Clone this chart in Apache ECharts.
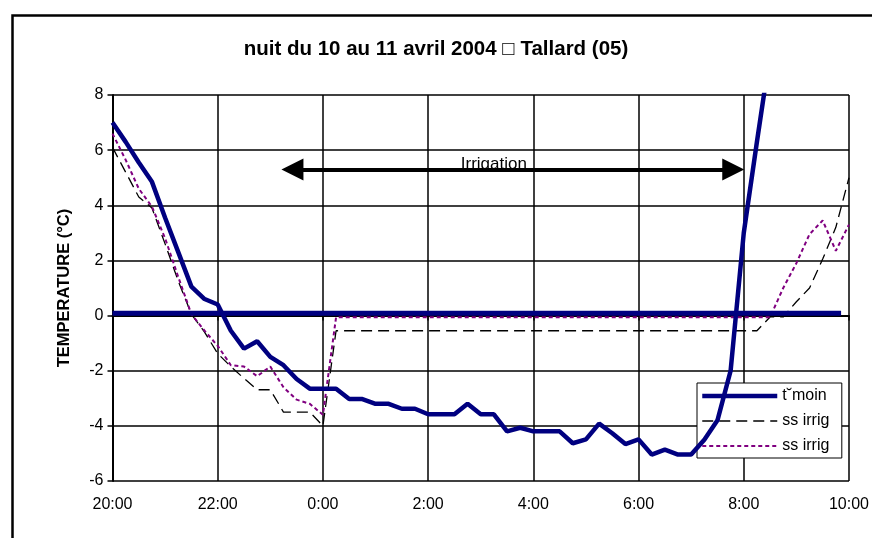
<!DOCTYPE html>
<html>
<head>
<meta charset="utf-8">
<script src="https://cdn.jsdelivr.net/npm/echarts@6/dist/echarts.min.js"></script>
<style>
html,body{margin:0;padding:0;background:#fff;}
#chart{width:872px;height:538px;}
</style>
</head>
<body>
<div id="chart"></div>
<script>
// time in hours after 20:00 (15-minute readings)
const hours = [0,0.25,0.5,0.75,1,1.25,1.5,1.75,2,2.25,2.5,2.75,3,3.25,3.5,3.75,
  4,4.25,4.5,4.75,5,5.25,5.5,5.75,6,6.25,6.5,6.75,7,7.25,7.5,7.75,
  8,8.25,8.5,8.75,9,9.25,9.5,9.75,10,10.25,10.5,10.75,11,11.25,11.5,11.75,
  12,12.25,12.5,12.75,13,13.25,13.5,13.75,14];
const tickLabels = ["20:00","22:00","0:00","2:00","4:00","6:00","8:00","10:00"];

const temoin = [7.0,6.3,5.55,4.85,3.55,2.3,1.05,0.6,0.4,-0.55,-1.2,-0.93,-1.5,-1.8,-2.3,-2.65,
  -2.65,-2.65,-3.03,-3.03,-3.2,-3.2,-3.38,-3.38,-3.58,-3.58,-3.58,-3.2,-3.58,-3.58,-4.2,-4.07,
  -4.2,-4.2,-4.2,-4.63,-4.49,-3.92,-4.27,-4.66,-4.49,-5.04,-4.86,-5.04,-5.04,-4.5,-3.8,-2.0,
  3.0,6.3,9.5];
const ssIrrig1 = [6.1,5.2,4.3,3.9,2.6,1.25,0.05,-0.6,-1.38,-1.85,-2.28,-2.69,-2.69,-3.5,-3.5,-3.5,
  -4.0,-0.55,-0.55,-0.55,-0.55,-0.55,-0.55,-0.55,-0.55,-0.55,-0.55,-0.55,-0.55,-0.55,-0.55,-0.55,
  -0.55,-0.55,-0.55,-0.55,-0.55,-0.55,-0.55,-0.55,-0.55,-0.55,-0.55,-0.55,-0.55,-0.55,-0.55,-0.55,
  -0.55,-0.55,-0.05,-0.05,0.5,1.0,2.05,3.2,5.0];
const ssIrrig2 = [6.6,5.65,4.6,3.95,2.8,1.4,0.05,-0.55,-1.1,-1.8,-1.85,-2.2,-1.85,-2.6,-3.05,-3.2,
  -3.6,-0.06,-0.06,-0.06,-0.06,-0.06,-0.06,-0.06,-0.06,-0.06,-0.06,-0.06,-0.06,-0.06,-0.06,-0.06,
  -0.06,-0.06,-0.06,-0.06,-0.06,-0.06,-0.06,-0.06,-0.06,-0.06,-0.06,-0.06,-0.06,-0.06,-0.06,-0.06,
  -0.06,-0.06,-0.06,1.0,1.9,2.95,3.45,2.35,3.3];
const zeroHours = [0, 13.85];
const zeroValues = [0.08, 0.08];
const irrigationHours = [3.42, 11.8];
const irrigationLevel = 5.3;

function pairs(xs, ys){ return ys.map((v,i)=>[xs[i], v]); }

const chart = echarts.init(document.getElementById('chart'), null, {renderer:'canvas'});
const FONT = '"Liberation Sans", Arial, sans-serif';
chart.setOption({
  animation:false,
  backgroundColor:'#fff',
  title:{
    text:'nuit du 10 au 11 avril 2004 \u25A1 Tallard (05)',
    left:'center', top:34,
    textStyle:{fontFamily:FONT,fontWeight:'bold',fontSize:20.5,color:'#000'}
  },
  graphic:[{
    type:'rect', left:10, top:13, shape:{width:900,height:600},
    style:{fill:'none',stroke:'#000',lineWidth:2.5}, z:-1
  }],
  grid:{left:112.5, right:22, top:95, bottom:57},
  legend:{
    data:['t\u02D8moin','ss irrig','ss irrig '],
    orient:'vertical', left:697, top:383,
    backgroundColor:'#fff', borderColor:'#000', borderWidth:1, borderRadius:0,
    padding:[5,8,4,3], itemGap:9, itemWidth:75, itemHeight:14,
    itemStyle:{opacity:0},
    lineStyle:{width:'inherit'},
    textStyle:{fontFamily:FONT,fontSize:16,color:'#000'}
  },
  xAxis:{
    type:'value', min:0, max:14, interval:2,
    axisLine:{lineStyle:{color:'#000',width:2}},
    axisTick:{show:true,inside:false,length:5,lineStyle:{color:'#000',width:1.5}},
    axisLabel:{fontFamily:FONT,fontSize:16,color:'#000',margin:16,
      formatter:(v)=>tickLabels[Math.round(v/2)]},
    splitLine:{show:true,lineStyle:{color:'#000',width:1.5}}
  },
  yAxis:{
    type:'value', min:-6, max:8, interval:2,
    name:'TEMPERATURE (\u00B0C)', nameLocation:'middle', nameGap:40,
    nameTextStyle:{fontFamily:FONT,fontWeight:'bold',fontSize:16.5,color:'#000'},
    axisLine:{show:true,lineStyle:{color:'#000',width:2}},
    axisTick:{show:true,inside:false,length:5,lineStyle:{color:'#000',width:1.5}},
    axisLabel:{fontFamily:FONT,fontSize:16,color:'#000',margin:9},
    splitLine:{show:true,lineStyle:{color:'#000',width:1.5}}
  },
  series:[
    {
      name:'zero', type:'line', data:pairs(zeroHours, zeroValues), symbol:'none',
      lineStyle:{color:'#000080',width:5}, z:4,
      markLine:{
        silent:true, symbol:['triangle','triangle'], symbolSize:22,
        lineStyle:{color:'#000',width:4,type:'solid'},
        label:{show:true,position:'middle',formatter:'Irrigation',distance:-3,
          padding:[0,38,0,0],
          fontFamily:FONT,fontSize:17,color:'#000'},
        data:[[{coord:[irrigationHours[0],irrigationLevel]},{coord:[irrigationHours[1],irrigationLevel]}]]
      }
    },
    {
      name:'t\u02D8moin', type:'line', data:pairs(hours, temoin), symbol:'none',
      lineStyle:{color:'#000080',width:4.5}, itemStyle:{color:'#000080'}, z:5
    },
    {
      name:'ss irrig', type:'line', data:pairs(hours, ssIrrig1), symbol:'none',
      lineStyle:{color:'#000',width:1.3,type:[11,6]}, itemStyle:{color:'#000'}, z:3
    },
    {
      name:'ss irrig ', type:'line', data:pairs(hours, ssIrrig2), symbol:'none',
      lineStyle:{color:'#800080',width:2,type:[4,3]}, itemStyle:{color:'#800080'}, z:3
    }
  ]
});
</script>
</body>
</html>
